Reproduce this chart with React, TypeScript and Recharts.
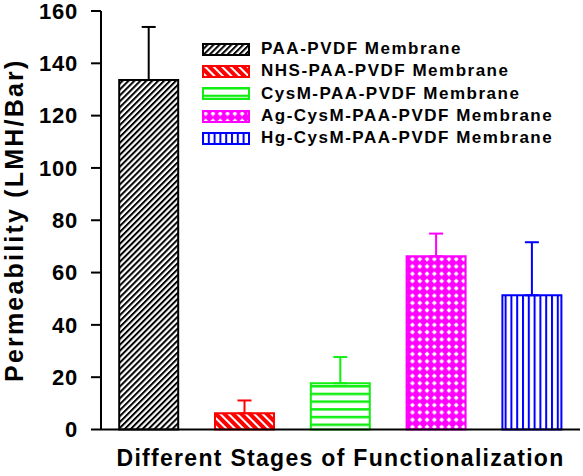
import { BarChart, Bar, XAxis, YAxis, Cell, ErrorBar, Legend, Label } from 'recharts';

const categories = [
  'PAA-PVDF Membrane',
  'NHS-PAA-PVDF Membrane',
  'CysM-PAA-PVDF Membrane',
  'Ag-CysM-PAA-PVDF Membrane',
  'Hg-CysM-PAA-PVDF Membrane',
];
const permeability = [133.6, 6.2, 17.7, 66.2, 51.3];
const upperError = [20.3, 4.9, 10.0, 8.7, 20.3];
const yTicks = [0, 20, 40, 60, 80, 100, 120, 140, 160];

const barColors = ['#000000', '#ff0000', '#11ee11', '#ff00ff', '#0000ff'];
const patternIds = ['hatchBlack', 'hatchRed', 'linesGreen', 'dotsMagenta', 'linesBlue'];

const FONT = '"Liberation Sans", Arial, Helvetica, sans-serif';

const data = categories.map((name, i) => ({
  name,
  value: permeability[i],
  idx: i,
  err: [0, upperError[i]],
}));

const Patterns = () => (
  <defs>
    <pattern id="hatchBlack" patternUnits="userSpaceOnUse" width="4.2" height="4.2" patternTransform="rotate(45)">
      <rect width="4.2" height="4.2" fill="#fff" />
      <rect width="2" height="4.2" fill="#000" />
    </pattern>
    <pattern id="hatchRed" patternUnits="userSpaceOnUse" width="6" height="6" patternTransform="rotate(-45)">
      <rect width="6" height="6" fill="#ff0000" />
      <rect width="2" height="6" fill="#fff" />
    </pattern>
    <pattern id="linesGreen" patternUnits="userSpaceOnUse" width="10" height="7.7">
      <rect width="10" height="7.7" fill="#fff" />
      <rect y="0" width="10" height="2.5" fill="#11ee11" />
    </pattern>
    <pattern id="dotsMagenta" patternUnits="userSpaceOnUse" width="7.3" height="7.3">
      <rect width="7.3" height="7.3" fill="#ff00ff" />
      <path d="M3.65 1.2 L6.1 3.65 L3.65 6.1 L1.2 3.65 Z" fill="#fff" />
    </pattern>
    <pattern id="linesBlue" patternUnits="userSpaceOnUse" width="5.8" height="10">
      <rect width="5.8" height="10" fill="#fff" />
      <rect x="0" width="2" height="10" fill="#0000ff" />
    </pattern>
  </defs>
);

const LegendBox = () => (
  <div style={{ fontFamily: FONT }}>
    {categories.map((name, i) => (
      <div key={name} style={{ display: 'flex', alignItems: 'center', height: 22.3 }}>
        <svg width={48} height={13} style={{ display: 'block' }}>
          <rect x={1} y={1} width={46} height={11} fill={`url(#${patternIds[i]})`} stroke={barColors[i]} strokeWidth={2} />
        </svg>
        <span
          style={{
            marginLeft: 11,
            fontSize: 17,
            fontWeight: 'bold',
            letterSpacing: 1.5,
            color: '#000',
            whiteSpace: 'nowrap',
          }}
        >
          {name}
        </span>
      </div>
    ))}
  </div>
);

export default function App() {
  return (
    <div style={{ position: 'absolute', left: 0, top: 0, background: '#fff' }}>
      <BarChart
        width={583}
        height={476}
        data={data}
        margin={{ top: 11, right: 3, bottom: 0, left: 0 }}
        barCategoryGap="19%"
      >
        <Patterns />
        <XAxis
          dataKey="name"
          tick={false}
          tickLine={false}
          height={46.5}
          axisLine={{ stroke: '#000', strokeWidth: 2 }}
        >
          <Label
            value="Different Stages of Functionalization"
            position="insideBottom"
            offset={10}
            style={{ fontFamily: FONT, fontSize: 23, fontWeight: 'bold', fill: '#000', letterSpacing: 1.3 }}
          />
        </XAxis>
        <XAxis
          xAxisId="top"
          orientation="top"
          dataKey="name"
          tick={false}
          tickLine={false}
          height={0}
          axisLine={{ stroke: '#000', strokeWidth: 2 }}
        />
        <YAxis
          domain={[0, 160]}
          ticks={yTicks}
          interval={0}
          width={101}
          tickSize={10}
          tickMargin={13}
          axisLine={{ stroke: '#000', strokeWidth: 2 }}
          tickLine={{ stroke: '#000', strokeWidth: 2 }}
          tick={{ fill: '#000', fontSize: 22, fontWeight: 'bold', fontFamily: FONT, letterSpacing: 0.8 }}
        >
          <Label
            value="Permeability (LMH/Bar)"
            angle={-90}
            position="insideLeft"
            offset={14}
            style={{ textAnchor: 'middle', fontFamily: FONT, fontSize: 25, fontWeight: 'bold', fill: '#000', letterSpacing: 2.2 }}
          />
        </YAxis>
        <YAxis
          yAxisId="right"
          orientation="right"
          domain={[0, 160]}
          width={0}
          tick={false}
          tickLine={false}
          axisLine={{ stroke: '#000', strokeWidth: 2 }}
        />
        <Legend
          layout="vertical"
          align="center"
          verticalAlign="middle"
          wrapperStyle={{ left: 202, top: 38, width: 'auto' }}
          content={() => <LegendBox />}
        />
        <Bar dataKey="value" isAnimationActive={false} strokeWidth={2}>
          {data.map((d, i) => (
            <Cell key={d.name} fill={`url(#${patternIds[i]})`} stroke={barColors[i]} />
          ))}
          {barColors.map((c, i) => (
            <ErrorBar
              key={`err-${i}`}
              dataKey={(d: any) => (d.idx === i ? d.err : undefined)}
              direction="y"
              width={7}
              stroke={c}
              strokeWidth={2}
              isAnimationActive={false}
            />
          ))}
        </Bar>
      </BarChart>
    </div>
  );
}
